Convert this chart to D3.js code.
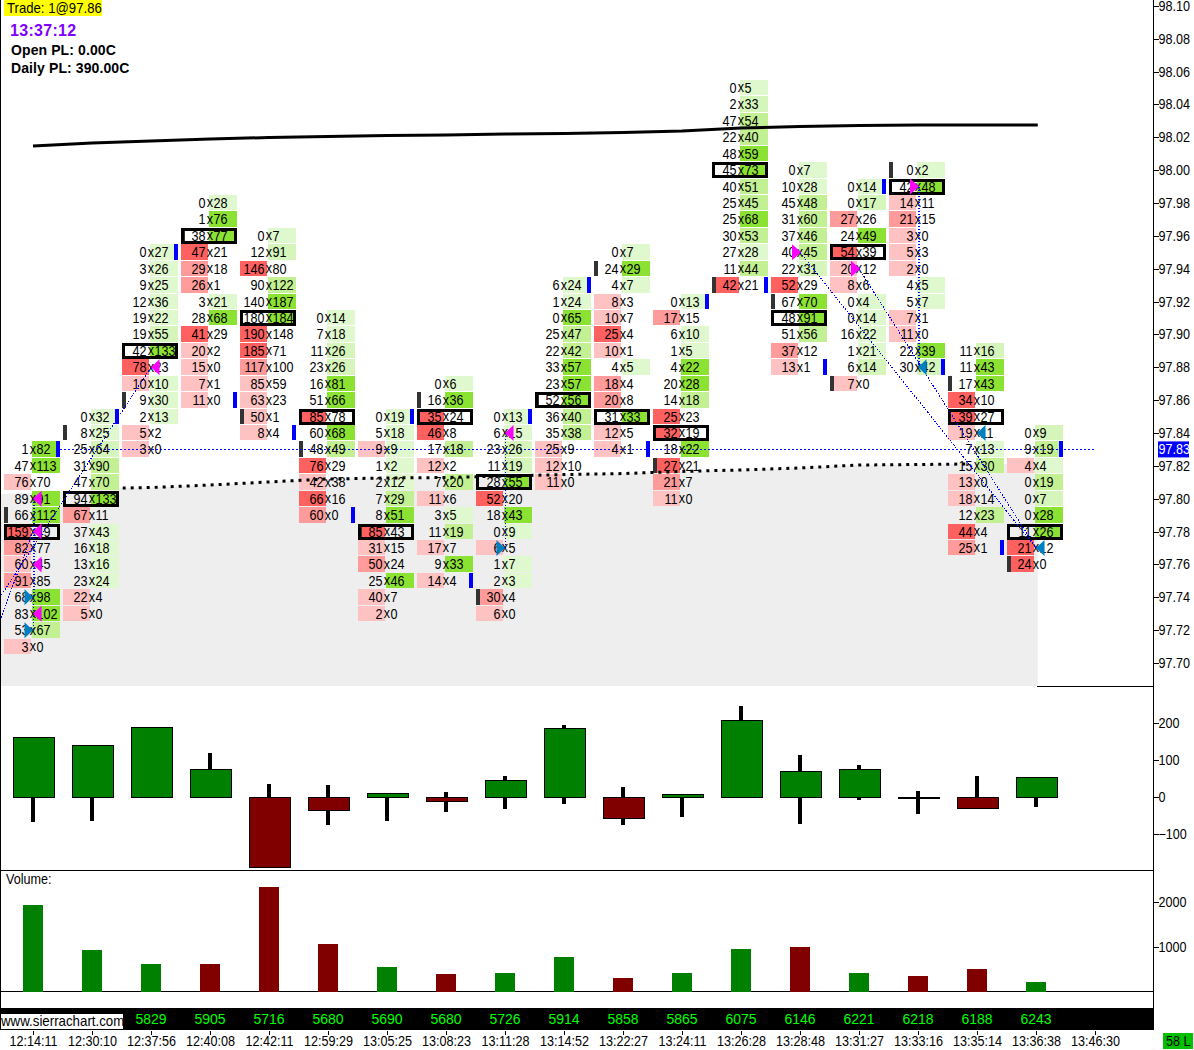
<!DOCTYPE html>
<html>
<head>
<meta charset="utf-8">
<script src="https://cdn.jsdelivr.net/npm/d3@7"></script>
<style>
  body { margin: 0; background: #fff; }
  svg { display: block; }
  text { font-family: "Liberation Sans", Arial, sans-serif; font-size: 14px; fill: #000; }
  .bold { font-weight: bold; letter-spacing: 0.1px; }
</style>
</head>
<body>
<svg id="chart" width="1194" height="1050"></svg>
<script>
const barTimes = ["12:14:11","12:30:10","12:37:56","12:40:08","12:42:11","12:59:29","13:05:25","13:08:23","13:11:28",
    "13:14:52","13:22:27","13:24:11","13:26:28","13:28:48","13:31:27","13:33:16","13:35:14","13:36:38","13:46:30"];
const barTotals = [null,null,5829,5905,5716,5680,5690,5680,5726,5914,5858,5865,6075,6146,6221,6218,6188,6243];

// top price of each footprint column, rows run down from it in 0.01 steps
const barTop = [97.83,97.85,97.95,97.98,97.96,97.91,97.85,97.87,97.85,97.93,97.95,97.92,98.05,98.00,97.99,98.00,97.89,97.84];

// bid, ask, shade (negative = bid side, positive = ask side, 9 = both)
const barRows = [
    [[1,82,4],[47,113,4],[76,70,-1],[89,91,4],[66,112,4],[159,49,-3],[82,77,-2],[60,45,-1],[91,85,-2],[68,98,4],[83,102,4],[53,67,3],[3,0,-1]],
    [[0,32,1],[8,25,1],[25,64,2],[31,90,3],[47,70,3],[94,133,4],[67,11,-2],[37,43,1],[16,18,1],[13,16,1],[23,24,1],[22,4,-1],[5,0,-1]],
    [[0,27,1],[3,26,1],[9,25,1],[12,36,1],[19,22,1],[19,55,2],[42,133,4],[78,23,-3],[10,10,9],[9,30,1],[2,13,1],[5,2,-1],[3,0,-1]],
    [[0,28,1],[1,76,4],[38,77,4],[47,21,-3],[29,18,-2],[26,1,-2],[3,21,1],[28,68,4],[41,29,-3],[20,2,-1],[15,0,-1],[7,1,-1],[11,0,-1]],
    [[0,7,1],[12,91,2],[146,80,-3],[90,122,3],[140,187,4],[180,184,4],[190,148,-3],[185,71,-3],[117,100,-2],[85,59,-1],[63,23,-1],[50,1,-1],[8,4,-1]],
    [[0,14,1],[7,18,1],[11,26,2],[23,26,2],[16,81,4],[51,66,4],[85,78,-3],[60,68,4],[48,49,3],[76,29,-3],[42,38,-1],[66,16,-3],[60,0,-2]],
    [[0,19,1],[5,18,1],[9,9,9],[1,2,1],[2,12,1],[7,29,3],[8,51,4],[85,43,-3],[31,15,-1],[50,24,-2],[25,46,4],[40,7,-1],[2,0,-1]],
    [[0,6,1],[16,36,4],[35,24,-3],[46,8,-3],[17,18,3],[12,2,-1],[7,20,3],[11,6,-1],[3,5,1],[11,19,3],[17,7,-1],[9,33,4],[14,4,-1]],
    [[0,13,1],[6,15,1],[23,26,2],[11,19,2],[28,55,4],[52,20,-3],[18,43,4],[0,9,1],[6,5,-1],[1,7,1],[2,3,1],[30,4,-2],[6,0,-1]],
    [[6,24,1],[1,24,1],[0,65,4],[25,47,3],[22,42,3],[33,57,4],[23,57,4],[52,56,4],[36,40,3],[35,38,3],[25,9,-1],[12,10,-1],[11,0,-1]],
    [[0,7,1],[24,29,4],[4,7,1],[8,3,-1],[10,7,-1],[25,4,-3],[10,1,-1],[4,5,1],[18,4,-2],[20,8,-2],[31,33,4],[12,5,-1],[4,1,-1]],
    [[0,13,1],[17,15,-2],[6,10,1],[1,5,1],[4,22,4],[20,28,4],[14,18,3],[25,23,-3],[32,19,-3],[18,22,4],[27,21,-3],[21,7,-2],[11,0,-1]],
    [[0,5,1],[2,33,2],[47,54,3],[22,40,3],[48,59,4],[45,73,4],[40,51,3],[25,45,3],[25,68,4],[30,53,3],[27,28,1],[11,44,3],[42,21,-3]],
    [[0,7,1],[10,28,1],[45,48,3],[31,60,3],[37,46,3],[40,45,3],[22,31,2],[52,29,-3],[67,70,4],[48,91,4],[51,56,3],[37,12,-2],[13,1,-1]],
    [[0,14,1],[0,17,2],[27,26,-2],[24,49,4],[54,39,-3],[20,12,-1],[8,6,-1],[0,4,1],[0,14,1],[16,22,1],[1,21,1],[6,14,2],[7,0,-1]],
    [[0,2,1],[42,48,4],[14,11,-1],[21,15,-2],[3,0,-1],[5,3,-1],[2,0,-1],[4,5,1],[5,7,1],[7,1,-1],[11,0,-1],[22,39,4],[30,42,2]],
    [[11,16,2],[11,43,4],[17,43,4],[34,10,-3],[39,27,-3],[19,11,-1],[7,13,1],[15,30,3],[13,0,-1],[18,14,-1],[12,23,3],[44,4,-3],[25,1,-2]],
    [[0,9,2],[9,19,3],[4,4,9],[0,19,3],[0,7,2],[0,28,4],[11,26,4],[21,12,-3],[24,0,-3]]
];

// per bar prices of the boxed row, the open marker and the close marker
const pocPrice = [97.78,97.80,97.89,97.96,97.91,97.85,97.78,97.85,97.81,97.86,97.85,97.84,98.00,97.91,97.95,97.99,97.85,97.78];
const openPrice = [97.79,97.84,97.86,97.96,97.85,97.83,97.78,97.86,97.74,97.86,97.94,97.82,97.93,97.92,97.87,98.00,97.87,97.76];
const closePrice = [97.83,97.85,97.95,97.86,97.84,97.79,97.85,97.75,97.85,97.93,97.83,97.92,97.93,97.88,97.99,97.88,97.77,97.83];

const tradeMarks = [
    [0,97.80,"magentaLeft"],[0,97.78,"magentaLeft"],[0,97.76,"magentaLeft"],[0,97.73,"magentaLeft"],
    [0,97.74,"blueRight"],[0,97.72,"blueRight"],[2,97.88,"magentaLeft"],[8,97.84,"magentaLeft"],
    [8,97.77,"blueRight"],[13,97.95,"magentaRight"],[14,97.94,"magentaRight"],[15,97.99,"magentaRight"],
    [15,97.88,"blueLeft"],[16,97.84,"blueLeft"],[17,97.77,"blueLeft"]
];
const tradeLines = [
    [-0.56,97.74,2,97.88],[-0.56,97.726,0,97.78],[0,97.80,0,97.72],[0.02,97.80,0.02,97.74],
    [8,97.84,8,97.77],[13,97.95,17,97.77],[14,97.94,17,97.77],[15,97.99,15,97.88],[15.02,97.99,15.02,97.88]
];

const maBars = [0,1,2,3,4,5,6,7,8,9,10,11,12,13,14,15,16,17.03];
const maPrices = [98.0147,98.0165,98.0177,98.019,98.0198,98.0205,98.021,98.0214,98.022,98.0223,98.0229,98.0238,98.0256,98.0265,98.0271,98.0274,98.0274,98.0274];

const shadeBars = [-0.56,1,1.52,2,3,4,5,6,7,8,9,10,11,12,13,14,15,15.8,17.03];
const shadePrices = [97.8029,97.8047,97.8065,97.8068,97.8083,97.8102,97.812,97.8126,97.8129,97.8138,97.8147,97.8153,97.8166,97.8175,97.8187,97.8205,97.8208,97.8211,97.8211];
const shadeFloor = 97.686;
const lastPrice = 97.83;

const priceTicks = d3.range(0, 21).map(i => +(97.70 + i * 0.02).toFixed(2));
const deltaTicks = [200, 100, 0, -100];
const volumeTicks = [2000, 1000];

const deltaClose = [162,140,189,75,-190,-35,11,-11,46,186,-57,8,208,70,76,-3,-30,54];
const deltaHigh = [162,140,189,119,36,33,11,14,58,195,28,8,247,114,87,17,58,54];
const deltaLow = [-68,-63,0,0,-190,-74,-63,-40,-31,-17,-74,-52,0,-71,-6,-44,-30,-25];

const volumes = [1933,925,612,612,2336,1060,545,388,410,769,299,410,948,993,410,343,500,209];
const volumeUp = [1,1,1,0,0,0,1,0,1,1,0,1,1,0,1,0,0,1];

const svg = d3.select("#chart");

// Scales
const x = d3.scaleLinear().domain([0, 1]).range([33, 92]);
const y = d3.scaleLinear().domain([97.70, 98.10]).range([663, 5.8]);
const yDelta = d3.scaleLinear().domain([0, 200]).range([797.3, 723.3]);
const yVol = d3.scaleLinear().domain([0, 2000]).range([991.7, 902.3]);

const bidColor = d3.scaleOrdinal().domain([1, 2, 3]).range(["#ffc2c2", "#ff9b9b", "#ff6060"]);
const askColor = d3.scaleOrdinal().domain([1, 2, 3, 4]).range(["#e0f8cd", "#d5f5bb", "#c2f092", "#8ce233"]);
const candleColor = d => d >= 0 ? "#008000" : "#800000";

const axisRightEdge = 1153;

// The reference font is tall and narrow, so squeeze text sideways about its anchor
function narrow(sel, sx = 0.9) {
    sel.each(function() {
        const t = d3.select(this);
        const tx = +t.attr("x") || 0, ty = +t.attr("y") || 0;
        t.attr("x", null).attr("y", null).attr("transform", `translate(${tx},${ty}) scale(${sx},1)`);
    });
    return sel;
}

// Flatten the footprint rows
const cells = [];
barRows.forEach((rows, b) => {
    rows.forEach((r, i) => {
        cells.push({ bar: b, price: +(barTop[b] - i * 0.01).toFixed(2), bid: r[0], ask: r[1], shade: r[2] });
    });
});

// Gray shaded area
const shadeArea = d3.area()
    .x(d => x(d[0]))
    .y0(y(shadeFloor))
    .y1(d => y(d[1]));
svg.append("path")
    .datum(shadeBars.map((b, i) => [b, shadePrices[i]]))
    .attr("d", shadeArea)
    .attr("fill", "#eeeeee");

// Footprint cells
const cellLayer = svg.append("g").attr("shape-rendering", "crispEdges");
cellLayer.selectAll("rect.bid")
    .data(cells.filter(d => d.shade < 0 || d.shade === 9))
    .enter().append("rect")
    .attr("class", "bid")
    .attr("x", d => x(d.bar) - 29)
    .attr("y", d => y(d.price) - 8)
    .attr("width", 27)
    .attr("height", 15.4)
    .attr("fill", d => bidColor(d.shade === 9 ? 1 : -d.shade));
cellLayer.selectAll("rect.ask")
    .data(cells.filter(d => d.shade > 0))
    .enter().append("rect")
    .attr("class", "ask")
    .attr("x", d => x(d.bar) - 1)
    .attr("y", d => y(d.price) - 8)
    .attr("width", 28)
    .attr("height", 15.4)
    .attr("fill", d => askColor(d.shade === 9 ? 1 : d.shade));

// Black moving lines
svg.append("path")
    .datum(maBars.map((b, i) => [b, maPrices[i]]))
    .attr("d", d3.line().x(d => x(d[0])).y(d => y(d[1])))
    .attr("fill", "none")
    .attr("stroke", "#000")
    .attr("stroke-width", 3);
svg.append("path")
    .datum(shadeBars.map((b, i) => [b, shadePrices[i]]).filter(d => d[0] >= 1.52 && d[0] <= 15.8))
    .attr("d", d3.line().x(d => x(d[0])).y(d => y(d[1])))
    .attr("fill", "none")
    .attr("stroke", "#000")
    .attr("stroke-width", 3)
    .attr("stroke-dasharray", "3 5");

// Open and close markers
cellLayer.selectAll("rect.open")
    .data(openPrice)
    .enter().append("rect")
    .attr("x", (d, i) => x(i) - 29)
    .attr("y", d => y(d) - 8)
    .attr("width", 4)
    .attr("height", 15.4)
    .attr("fill", "#333333");
const closeLayer = svg.append("g").attr("shape-rendering", "crispEdges");
closeLayer.selectAll("rect")
    .data(closePrice)
    .enter().append("rect")
    .attr("x", (d, i) => x(i) + 23)
    .attr("y", d => y(d) - 8)
    .attr("width", 4)
    .attr("height", 15.4)
    .attr("fill", "#0000ff");

// Last price line
svg.append("line")
    .attr("x1", x(0) + 27).attr("x2", 1094)
    .attr("y1", Math.floor(y(lastPrice)) + 0.5).attr("y2", Math.floor(y(lastPrice)) + 0.5)
    .attr("stroke", "#0000ff")
    .attr("stroke-dasharray", "2 2");

// Boxed rows
svg.append("g")
    .selectAll("rect")
    .data(pocPrice)
    .enter().append("rect")
    .attr("x", (d, i) => x(i) - 27.5)
    .attr("y", d => Math.round(y(d)) - 6.5)
    .attr("width", 53)
    .attr("height", 13)
    .attr("fill", "none")
    .attr("stroke", "#000")
    .attr("stroke-width", 3);

// Footprint text
const textLayer = svg.append("g");
cells.forEach(d => {
    const cx = x(d.bar), cy = y(d.price) + 5;
    narrow(textLayer.append("text").attr("x", cx - 4.5).attr("y", cy).attr("text-anchor", "end").text(d.bid));
    narrow(textLayer.append("text").attr("x", cx).attr("y", cy - 0.5).attr("text-anchor", "middle").text("x"));
    narrow(textLayer.append("text").attr("x", cx + 3.5).attr("y", cy).text(d.ask));
});

// Trade lines and triangles
svg.append("defs").append("clipPath").attr("id", "plot")
    .append("rect").attr("x", 1).attr("y", 0).attr("width", 1152).attr("height", 690);
svg.append("g").attr("clip-path", "url(#plot)")
    .selectAll("line")
    .data(tradeLines)
    .enter().append("line")
    .attr("x1", d => x(d[0])).attr("y1", d => y(d[1]))
    .attr("x2", d => x(d[2])).attr("y2", d => y(d[3]))
    .attr("stroke", "#0000ff")
    .attr("stroke-dasharray", "1.5 1.5")
    .attr("shape-rendering", "crispEdges");

const triangleShape = {
    magentaLeft: [[0, 0], [8.5, -8], [8.5, 8]],
    magentaRight: [[1, 0], [-8, -8], [-8, 8]],
    blueRight: [[0, 0], [-8.5, -8], [-8.5, 8]],
    blueLeft: [[0, 0], [8.5, -8], [8.5, 8]]
};
svg.append("g").selectAll("path")
    .data(tradeMarks)
    .enter().append("path")
    .attr("transform", d => `translate(${x(d[0])},${y(d[1])})`)
    .attr("d", d => d3.line()(triangleShape[d[2]]) + "Z")
    .attr("fill", d => d[2].startsWith("magenta") ? "#ff00ff" : "#0080c0");

// Header text
svg.append("rect").attr("x", 4).attr("y", 0).attr("width", 98).attr("height", 16).attr("fill", "#ffff00");
narrow(svg.append("text").attr("x", 7).attr("y", 13).text("Trade: 1@97.86"), 0.94);
svg.append("text").attr("class", "bold").attr("x", 10).attr("y", 36).style("font-size", "16px").style("fill", "#8000ff").style("letter-spacing", "0.3px").text("13:37:12");
svg.append("text").attr("class", "bold").attr("x", 11).attr("y", 55).text("Open PL: 0.00C");
svg.append("text").attr("class", "bold").attr("x", 11).attr("y", 73).text("Daily PL: 390.00C");

// Panel separators
const sepLayer = svg.append("g").attr("shape-rendering", "crispEdges");
sepLayer.append("line").attr("x1", 0.5).attr("x2", 0.5).attr("y1", 0).attr("y2", 1030).attr("stroke", "#000");
sepLayer.append("line").attr("x1", 1037).attr("x2", axisRightEdge).attr("y1", 686.5).attr("y2", 686.5).attr("stroke", "#000");
sepLayer.append("line").attr("x1", 0).attr("x2", axisRightEdge).attr("y1", 870.5).attr("y2", 870.5).attr("stroke", "#000");
sepLayer.append("line").attr("x1", 0).attr("x2", axisRightEdge).attr("y1", 991.5).attr("y2", 991.5).attr("stroke", "#000");

// Delta candles
const candles = svg.append("g").attr("shape-rendering", "crispEdges");
candles.selectAll("rect.wick")
    .data(deltaClose)
    .enter().append("rect")
    .attr("x", (d, i) => x(i) - 2)
    .attr("y", (d, i) => yDelta(deltaHigh[i]))
    .attr("width", 4)
    .attr("height", (d, i) => yDelta(deltaLow[i]) - yDelta(deltaHigh[i]))
    .attr("fill", "#000");
candles.selectAll("rect.body")
    .data(deltaClose)
    .enter().append("rect")
    .attr("x", (d, i) => x(i) - 19.5)
    .attr("y", d => Math.min(yDelta(d), yDelta(0)))
    .attr("width", 41)
    .attr("height", d => Math.abs(yDelta(d) - yDelta(0)))
    .attr("fill", candleColor)
    .attr("stroke", "#000");

// Volume bars
narrow(svg.append("text").attr("x", 6).attr("y", 884).text("Volume:"));
svg.append("g").attr("shape-rendering", "crispEdges")
    .selectAll("rect")
    .data(volumes)
    .enter().append("rect")
    .attr("x", (d, i) => x(i) - 10)
    .attr("y", d => yVol(d))
    .attr("width", 20)
    .attr("height", d => yVol(0) - yVol(d))
    .attr("fill", (d, i) => volumeUp[i] ? "#008000" : "#800000");

// Bottom strip with totals
svg.append("rect").attr("x", 0).attr("y", 1008).attr("width", axisRightEdge).attr("height", 22).attr("fill", "#000");
svg.append("g").selectAll("text")
    .data(barTotals.map((v, i) => ({ v, i })).filter(d => d.v !== null))
    .enter().append("text")
    .attr("x", d => x(d.i))
    .attr("y", 1024)
    .attr("text-anchor", "middle")
    .style("fill", "#00ff00")
    .text(d => d.v);
svg.append("rect").attr("x", 0.5).attr("y", 1013.5).attr("width", 123).attr("height", 16).attr("fill", "#fff").attr("stroke", "#000").attr("shape-rendering", "crispEdges");
narrow(svg.append("text").attr("x", 1).attr("y", 1026).text("www.sierrachart.com"), 0.95);

// Right axes
function rightAxis(scale, ticks, fmt) {
    const g = svg.append("g")
        .attr("transform", `translate(${axisRightEdge + 0.5},0)`)
        .call(d3.axisRight(scale).tickValues(ticks).tickFormat(fmt).tickSize(5).tickSizeOuter(0).tickPadding(0));
    g.select(".domain").remove();
    g.selectAll("line").attr("stroke", "#000").attr("shape-rendering", "crispEdges");
    g.selectAll("text").attr("fill", "#000").attr("font-family", null).attr("font-size", null);
    narrow(g.selectAll("text"));
    return g;
}
rightAxis(y, priceTicks, d3.format(".2f"));
rightAxis(yDelta, deltaTicks, d3.format("d"));
rightAxis(yVol, volumeTicks, d3.format("d"));
svg.append("line").attr("x1", axisRightEdge + 0.5).attr("x2", axisRightEdge + 0.5).attr("y1", 0).attr("y2", 1030)
    .attr("stroke", "#000").attr("shape-rendering", "crispEdges");

// Last price label
svg.append("rect").attr("x", 1158).attr("y", y(lastPrice) - 8).attr("width", 31).attr("height", 16).attr("fill", "#0000ff");
narrow(svg.append("text").attr("x", 1158.5).attr("y", y(lastPrice) + 5).style("fill", "#fff").text(d3.format(".2f")(lastPrice)));

// Time axis
const timeAxis = svg.append("g")
    .attr("transform", "translate(0,1030.5)")
    .call(d3.axisBottom(d3.scaleOrdinal().domain(barTimes).range(barTimes.map((t, i) => x(i)))).tickSize(4).tickSizeOuter(0).tickPadding(2));
timeAxis.select(".domain").remove();
timeAxis.selectAll("line").attr("stroke", "#000").attr("shape-rendering", "crispEdges");
timeAxis.selectAll("text").attr("fill", "#000").attr("font-family", null).attr("font-size", null);
narrow(timeAxis.selectAll("text"));

// Trade count box
svg.append("rect").attr("x", 1163).attr("y", 1033).attr("width", 30).attr("height", 16).attr("fill", "#00c000");
narrow(svg.append("text").attr("x", 1166).attr("y", 1046).text("58 L"));
</script>
</body>
</html>
